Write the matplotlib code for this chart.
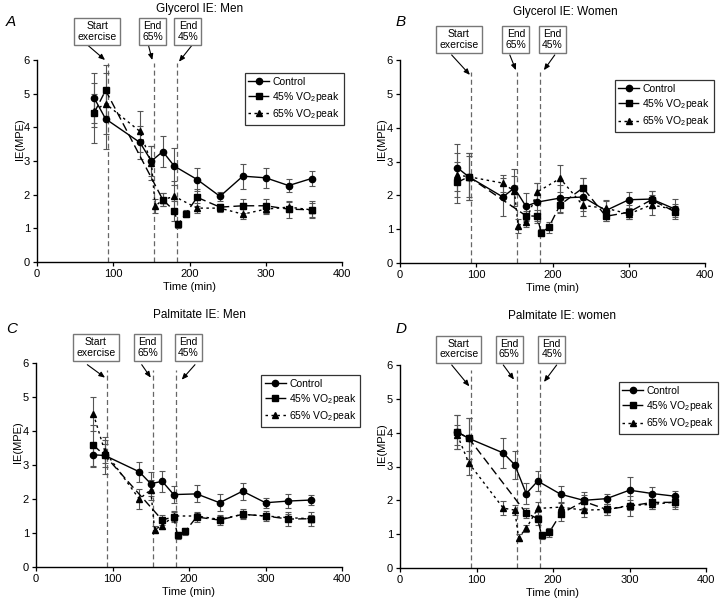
import matplotlib
matplotlib.use("Agg")
import matplotlib.pyplot as plt

plt.rcParams['font.family'] = ['Liberation Sans', 'DejaVu Sans']
plt.rcParams['mathtext.default'] = 'regular'

# ---------------- data ----------------
t_ctrl = [75, 90, 135, 150, 165, 180, 210, 240, 270, 300, 330, 360]
t_45 = [75, 90, 165, 180, 185, 195, 210, 240, 270, 300, 330, 360]
t_65 = [75, 90, 135, 150, 155, 165, 180, 210, 240, 270, 300, 330, 360]

series_labels = ["Control", "45% VO$_2$peak", "65% VO$_2$peak"]
panel_titles = ["Glycerol IE: Men", "Glycerol IE: Women", "Palmitate IE: Men", "Palmitate IE: women"]
panel_letters = ["A", "B", "C", "D"]
event_labels = ["Start\nexercise", "End\n65%", "End\n45%"]
event_times = [93, 153, 183]
x_ticks = [0, 100, 200, 300, 400]
y_ticks = [0, 1, 2, 3, 4, 5, 6]

# Panel A: Glycerol men
a_ctrl = [4.87, 4.25, 3.55, 3.0, 3.28, 2.85, 2.45, 1.95, 2.55, 2.5, 2.27, 2.48]
a_ctrl_err = [0.75, 0.9, 0.5, 0.45, 0.45, 0.55, 0.35, 0.13, 0.37, 0.29, 0.2, 0.21]
a_45 = [4.43, 5.1, 1.85, 1.52, 1.12, 1.43, 1.92, 1.63, 1.67, 1.67, 1.57, 1.55]
a_45_err = [0.9, 0.75, 0.2, 0.3, 0.1, 0.1, 0.25, 0.1, 0.2, 0.2, 0.25, 0.25]
a_65 = [4.5, 4.7, 3.88, 2.95, 1.66, 1.85, 1.95, 1.6, 1.6, 1.42, 1.57, 1.63, 1.55]
a_65_err = [0.5, 0.9, 0.6, 0.5, 0.2, 0.2, 0.45, 0.15, 0.1, 0.15, 0.15, 0.15, 0.2]

# Panel B: Glycerol women
b_ctrl = [2.82, 2.55, 1.95, 2.22, 1.68, 1.8, 1.92, 1.95, 1.55, 1.87, 1.89, 1.6]
b_ctrl_err = [0.7, 0.7, 0.55, 0.55, 0.4, 0.55, 0.4, 0.55, 0.3, 0.23, 0.25, 0.3]
b_45 = [2.38, 2.55, 1.4, 1.38, 0.9, 1.05, 1.72, 2.22, 1.38, 1.5, 1.87, 1.52]
b_45_err = [0.6, 0.7, 0.15, 0.2, 0.1, 0.15, 0.25, 0.3, 0.15, 0.2, 0.25, 0.15]
b_65 = [2.6, 2.55, 2.36, 2.12, 1.1, 1.22, 2.1, 2.5, 1.7, 1.62, 1.45, 1.72, 1.58]
b_65_err = [0.65, 0.6, 0.25, 0.45, 0.2, 0.15, 0.25, 0.4, 0.15, 0.2, 0.15, 0.3, 0.15]

# Panel C: Palmitate men
c_ctrl = [3.3, 3.28, 2.8, 2.45, 2.52, 2.13, 2.15, 1.89, 2.23, 1.89, 1.94, 1.97]
c_ctrl_err = [0.35, 0.35, 0.3, 0.35, 0.3, 0.25, 0.25, 0.25, 0.25, 0.15, 0.2, 0.15]
c_45 = [3.58, 3.28, 1.38, 1.48, 0.93, 1.05, 1.47, 1.38, 1.55, 1.5, 1.41, 1.42]
c_45_err = [0.6, 0.55, 0.15, 0.15, 0.1, 0.1, 0.15, 0.15, 0.15, 0.15, 0.2, 0.2]
c_65 = [4.5, 3.4, 2.0, 2.27, 1.1, 1.22, 1.5, 1.5, 1.4, 1.55, 1.5, 1.45, 1.42]
c_65_err = [0.5, 0.35, 0.3, 0.3, 0.1, 0.1, 0.15, 0.1, 0.1, 0.1, 0.1, 0.1, 0.1]

# Panel D: Palmitate women
d_ctrl = [4.02, 3.83, 3.4, 3.05, 2.2, 2.57, 2.18, 2.0, 2.05, 2.3, 2.2, 2.12]
d_ctrl_err = [0.5, 0.6, 0.45, 0.42, 0.32, 0.3, 0.25, 0.25, 0.15, 0.38, 0.2, 0.15]
d_45 = [4.02, 3.83, 1.62, 1.46, 0.97, 1.05, 1.6, 1.97, 1.73, 1.83, 1.94, 1.94]
d_45_err = [0.5, 0.6, 0.15, 0.2, 0.1, 0.12, 0.2, 0.2, 0.15, 0.3, 0.2, 0.2]
d_65 = [3.93, 3.1, 1.77, 1.71, 0.9, 1.17, 1.76, 1.8, 1.71, 1.73, 1.85, 1.88, 1.95]
d_65_err = [0.3, 0.35, 0.2, 0.15, 0.1, 0.1, 0.2, 0.15, 0.2, 0.15, 0.15, 0.15, 0.15]

panels = [
    (a_ctrl, a_ctrl_err, a_45, a_45_err, a_65, a_65_err),
    (b_ctrl, b_ctrl_err, b_45, b_45_err, b_65, b_65_err),
    (c_ctrl, c_ctrl_err, c_45, c_45_err, c_65, c_65_err),
    (d_ctrl, d_ctrl_err, d_45, d_45_err, d_65, d_65_err),
]

# ---------------- layout ----------------
W, H = 720, 600
fig = plt.figure(figsize=(7.2, 6.0), dpi=100)

# axes rectangles in pixels: left, top, right, bottom
ax_px = [(37, 60, 342, 262), (400, 60, 705, 263), (36, 363, 342, 567), (400, 365, 706, 568)]
title_px = [(200, 9), (565, 12), (199, 315), (562, 316)]
letter_px = [(6, 22), (396, 22), (6, 329), (396, 329)]
vline_top = [5.9, 5.65, 5.8, 5.85]
legend_anchor = [(1.005, 0.935), (1.028, 0.90), (1.06, 0.94), (1.038, 0.915)]
# box centers (x data, y data) and arrows (start x,y -> tip x,y) per panel
box_y = [6.85, 6.6, 6.45, 6.47]
box_x = [(79, 151.5, 198), (77.3, 152, 199.8), (78.2, 145.8, 199.3), (76.7, 142.9, 198.3)]
arrow_start = [[(66, 6.45), (146, 6.45), (203.7, 6.45)],
               [(67.7, 6.15), (144, 6.15), (203, 6.15)],
               [(67.1, 5.95), (138.2, 5.95), (207.8, 5.95)],
               [(67.6, 6.0), (135, 6.0), (204.8, 6.0)]]
arrow_tip = [[(89.2, 6.0), (151.2, 6.0), (186.2, 5.95)],
             [(91.7, 5.56), (152, 5.7), (188.7, 5.7)],
             [(90.2, 5.57), (150, 5.57), (190.5, 5.51)],
             [(90.6, 5.37), (149, 5.57), (188.2, 5.5)]]

errc = '#555555'
for i, (ctrl, ctrl_e, s45, s45_e, s65, s65_e) in enumerate(panels):
    l, t, r, b = ax_px[i]
    ax = fig.add_axes([l / W, 1 - b / H, (r - l) / W, (b - t) / H])
    ax.set_xlim(0, 400)
    ax.set_ylim(0, 6)
    ax.set_xticks(x_ticks)
    ax.set_yticks(y_ticks)
    for sp in ['top', 'right']:
        ax.spines[sp].set_visible(False)
    for sp in ['left', 'bottom']:
        ax.spines[sp].set_linewidth(1.0)
    ax.tick_params(direction='out', length=3, width=0.9, labelsize=8, pad=2)

    for ev in event_times:
        ax.plot([ev, ev], [0, vline_top[i]], color='#666666', lw=0.9,
                dashes=(4, 2.5), zorder=1)

    ax.errorbar(t_ctrl, ctrl, yerr=ctrl_e, fmt='none', ecolor=errc, elinewidth=0.8,
                capsize=2, capthick=0.8, zorder=2)
    ax.errorbar(t_45, s45, yerr=s45_e, fmt='none', ecolor=errc, elinewidth=0.8,
                capsize=2, capthick=0.8, zorder=2)
    ax.errorbar(t_65, s65, yerr=s65_e, fmt='none', ecolor=errc, elinewidth=0.8,
                capsize=2, capthick=0.8, zorder=2)

    ax.plot(t_ctrl, ctrl, color='black', lw=1.0, marker='o', ms=4.5,
            label=series_labels[0], zorder=4)
    ax.plot(t_45, s45, color='black', lw=1.0, marker='s', ms=5, dashes=(6, 3),
            label=series_labels[1], zorder=4)
    ax.plot(t_65, s65, color='black', lw=1.0, marker='^', ms=4.5, dashes=(1.8, 2.5),
            label=series_labels[2], zorder=4)

    leg = ax.legend(loc='upper right', bbox_to_anchor=legend_anchor[i], fontsize=7.5,
                    frameon=True, fancybox=False, edgecolor='black', handlelength=2.0,
                    handletextpad=0.3, borderpad=0.35, labelspacing=0.3,
                    borderaxespad=0.0)
    leg.get_frame().set_linewidth(0.9)

    ax.set_xlabel('Time (min)', fontsize=8, labelpad=2)
    ax.set_ylabel('IE(MPE)', fontsize=8)
    ax.yaxis.set_label_coords(-12.5 / (r - l), 0.61)

    for k, lab in enumerate(event_labels):
        ax.text(box_x[i][k], box_y[i], lab, ha='center', va='center', fontsize=7.5,
                linespacing=1.1, clip_on=False, zorder=5,
                bbox=dict(boxstyle='square,pad=0.3', fc='white', ec='#777777', lw=1.0))
        ax.annotate('', xy=arrow_tip[i][k], xytext=arrow_start[i][k],
                    annotation_clip=False,
                    arrowprops=dict(arrowstyle='-|>,head_length=0.35,head_width=0.15',
                                    color='black', lw=0.8, shrinkA=0, shrinkB=0))

    fig.text(title_px[i][0] / W, 1 - title_px[i][1] / H, panel_titles[i],
             ha='center', va='center', fontsize=8.5)
    fig.text(letter_px[i][0] / W, 1 - letter_px[i][1] / H, panel_letters[i],
             ha='left', va='center', fontsize=11, style='italic')

fig.savefig('out.png', dpi=100)
